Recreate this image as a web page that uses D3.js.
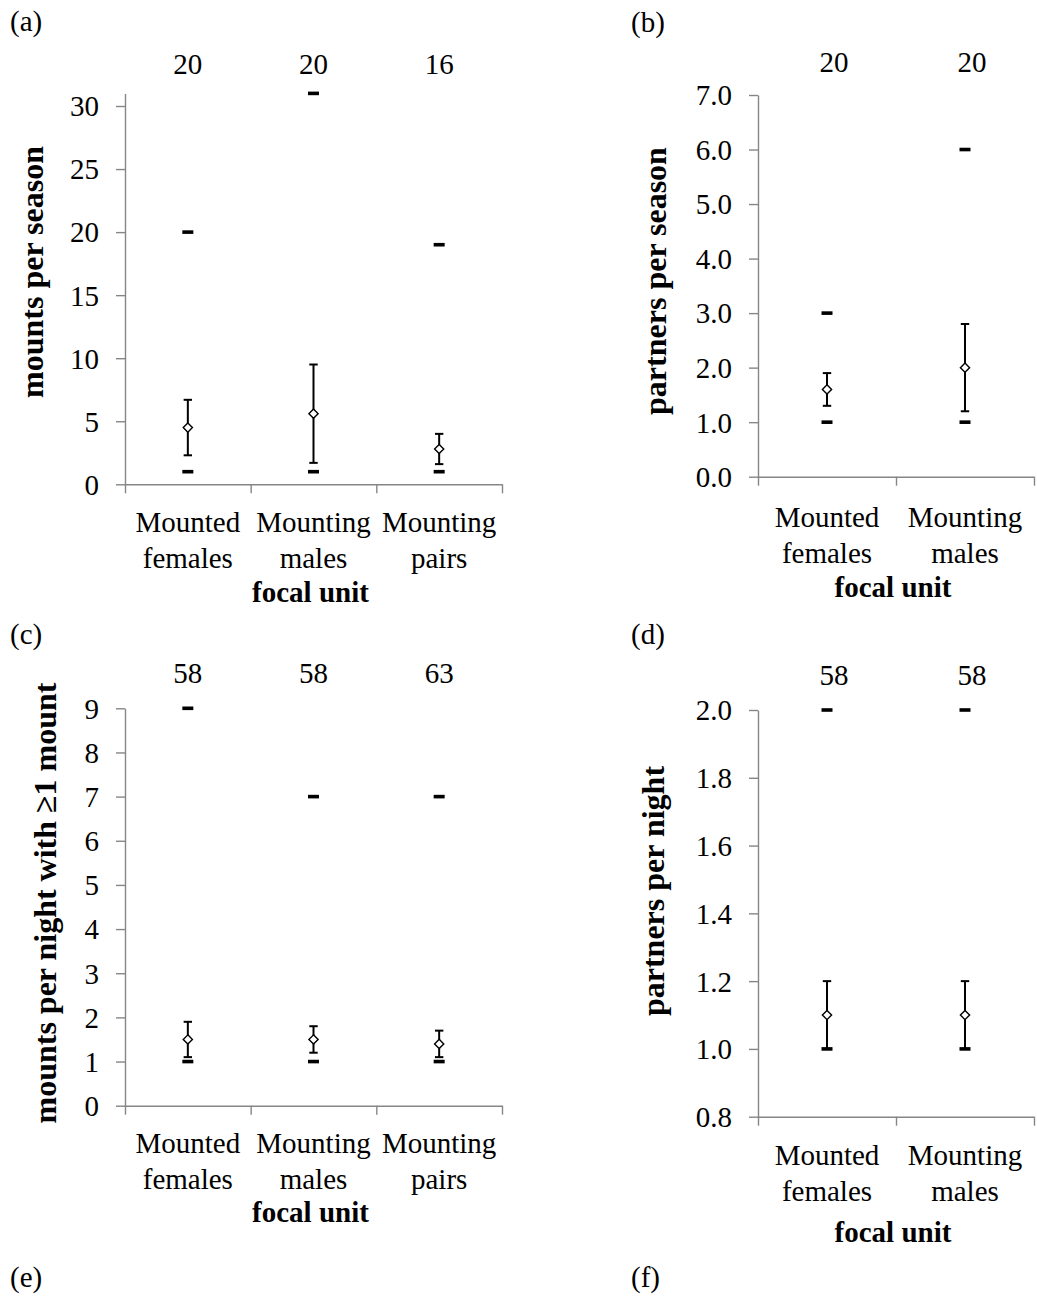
<!DOCTYPE html>
<html lang="en">
<head>
<meta charset="utf-8">
<title>Mounts and partners by focal unit</title>
<script src="https://cdn.jsdelivr.net/npm/d3@7"></script>
<style>
  body { margin: 0; background: #fff; }
  svg text { font-family: "Liberation Serif", "Times New Roman", serif; fill: #000; }
</style>
</head>
<body>
<div id="wrapper"></div>
<script>
// categories
const threeUnits = [["Mounted", "females"], ["Mounting", "males"], ["Mounting", "pairs"]]
const twoUnits = [["Mounted", "females"], ["Mounting", "males"]]

// (a) mounts per season
const seasonMountsN = [20, 20, 16]
const seasonMountsMean = [4.5, 5.6, 2.8]
const seasonMountsHigh = [6.7, 9.5, 4.0]
const seasonMountsLow = [2.3, 1.7, 1.6]
const seasonMountsMax = [20, 31, 19]
const seasonMountsMin = [1, 1, 1]
const seasonMountsTicks = [0, 5, 10, 15, 20, 25, 30]

// (b) partners per season
const seasonPartnersN = [20, 20]
const seasonPartnersMean = [1.6, 2.0]
const seasonPartnersHigh = [1.9, 2.8]
const seasonPartnersLow = [1.3, 1.2]
const seasonPartnersMax = [3, 6]
const seasonPartnersMin = [1, 1]
const seasonPartnersTicks = [0, 1, 2, 3, 4, 5, 6, 7]

// (c) mounts per night with >=1 mount
const nightMountsN = [58, 58, 63]
const nightMountsMean = [1.5, 1.5, 1.4]
const nightMountsHigh = [1.9, 1.8, 1.7]
const nightMountsLow = [1.1, 1.2, 1.1]
const nightMountsMax = [9, 7, 7]
const nightMountsMin = [1, 1, 1]
const nightMountsTicks = [0, 1, 2, 3, 4, 5, 6, 7, 8, 9]

// (d) partners per night
const nightPartnersN = [58, 58]
const nightPartnersMean = [1.1, 1.1]
const nightPartnersHigh = [1.2, 1.2]
const nightPartnersLow = [1.0, 1.0]
const nightPartnersMax = [2, 2]
const nightPartnersMin = [1, 1]
const nightPartnersTicks = [0.8, 1.0, 1.2, 1.4, 1.6, 1.8, 2.0]

const panelLetters = ["(a)", "(b)", "(c)", "(d)", "(e)", "(f)"]

const fontSize = 29
const titleSize = 32
const axisGrey = "#868686"

const svg = d3.select("#wrapper")
    .append("svg")
    .attr("width", 1037)
    .attr("height", 1302)

// panel letters
const letterPos = [[10, 31], [631, 32], [10, 644], [631, 644], [10, 1287], [631, 1287]]
svg.selectAll(".letter")
    .data(panelLetters)
    .join("text")
    .attr("class", "letter")
    .attr("x", (d, i) => letterPos[i][0])
    .attr("y", (d, i) => letterPos[i][1])
    .style("font-size", fontSize + "px")
    .text(d => d)

const panels = [
    {
        units: threeUnits, n: seasonMountsN, mean: seasonMountsMean, high: seasonMountsHigh,
        low: seasonMountsLow, max: seasonMountsMax, min: seasonMountsMin, ticks: seasonMountsTicks,
        domain: [0, 31], fmt: d3.format("d"), title: "mounts per season",
        left: 125, right: 502, top: 93.4, bottom: 484.3,
        nY: 74, nShift: 0, catY: 48, unitY: 118, titleX: 43, titleY: 272
    },
    {
        units: twoUnits, n: seasonPartnersN, mean: seasonPartnersMean, high: seasonPartnersHigh,
        low: seasonPartnersLow, max: seasonPartnersMax, min: seasonPartnersMin, ticks: seasonPartnersTicks,
        domain: [0, 7], fmt: d3.format(".1f"), title: "partners per season",
        left: 758, right: 1034, top: 95, bottom: 476.7,
        nY: 72, nShift: 7, catY: 50, unitY: 120, titleX: 666, titleY: 281
    },
    {
        units: threeUnits, n: nightMountsN, mean: nightMountsMean, high: nightMountsHigh,
        low: nightMountsLow, max: nightMountsMax, min: nightMountsMin, ticks: nightMountsTicks,
        domain: [0, 9], fmt: d3.format("d"), title: "mounts per night with \u22651 mount",
        left: 125, right: 502, top: 708.3, bottom: 1105.7,
        nY: 683, nShift: 0, catY: 47, unitY: 116, titleX: 56, titleY: 903
    },
    {
        units: twoUnits, n: nightPartnersN, mean: nightPartnersMean, high: nightPartnersHigh,
        low: nightPartnersLow, max: nightPartnersMax, min: nightPartnersMin, ticks: nightPartnersTicks,
        domain: [0.8, 2.0], fmt: d3.format(".1f"), title: "partners per night",
        left: 758, right: 1034, top: 710, bottom: 1116.7,
        nY: 685, nShift: 7, catY: 48, unitY: 125, titleX: 664, titleY: 891
    }
]

panels.forEach(drawPanel)

function drawPanel(p) {
    const g = svg.append("g")
    const names = p.units.map(d => d.join(" "))
    const x = d3.scaleBand().domain(names).range([p.left, p.right])
    const xEdge = d3.scaleLinear().domain([0, names.length]).range([p.left, p.right])
    const y = d3.scaleLinear().domain(p.domain).range([p.bottom, p.top])
    const cx = i => x(names[i]) + x.bandwidth() / 2

    // y axis
    const yAxis = g.append("g")
        .attr("transform", `translate(${p.left},0)`)
        .call(d3.axisLeft(y).tickValues(p.ticks).tickFormat(p.fmt)
            .tickSize(9).tickSizeOuter(0).tickPadding(17))
    yAxis.select(".domain").attr("stroke", axisGrey).attr("stroke-width", 1.4)
    yAxis.selectAll(".tick line").attr("stroke", axisGrey).attr("stroke-width", 1.4)
    yAxis.selectAll(".tick text")
        .attr("dy", "0.34em")
        .style("font-size", fontSize + "px")
        .style("font-family", "'Liberation Serif', 'Times New Roman', serif")
        .attr("fill", "#000")

    // x axis, ticks between categories
    const xAxis = g.append("g")
        .attr("transform", `translate(0,${p.bottom})`)
        .call(d3.axisBottom(xEdge).tickValues(d3.range(names.length + 1))
            .tickFormat("").tickSize(9).tickSizeOuter(0))
    xAxis.select(".domain").attr("stroke", axisGrey).attr("stroke-width", 1.4)
    xAxis.selectAll(".tick line").attr("stroke", axisGrey).attr("stroke-width", 1.4)

    // category labels
    const cats = g.selectAll(".cat")
        .data(p.units)
        .join("text")
        .attr("class", "cat")
        .attr("text-anchor", "middle")
        .style("font-size", fontSize + "px")
    cats.append("tspan")
        .attr("x", (d, i) => cx(i))
        .attr("y", p.bottom + p.catY)
        .text(d => d[0])
    cats.append("tspan")
        .attr("x", (d, i) => cx(i))
        .attr("y", p.bottom + p.catY + 36)
        .text(d => d[1])

    g.append("text")
        .attr("x", (p.left + p.right) / 2 - 3)
        .attr("y", p.bottom + p.unitY)
        .attr("text-anchor", "middle")
        .style("font-size", fontSize + "px")
        .style("font-weight", "bold")
        .text("focal unit")

    // y title
    g.append("text")
        .attr("transform", `translate(${p.titleX},${p.titleY}) rotate(-90)`)
        .attr("text-anchor", "middle")
        .style("font-size", titleSize + "px")
        .style("font-weight", "bold")
        .text(p.title)

    // sample sizes
    g.selectAll(".n")
        .data(p.n)
        .join("text")
        .attr("class", "n")
        .attr("x", (d, i) => cx(i) + p.nShift)
        .attr("y", p.nY)
        .attr("text-anchor", "middle")
        .style("font-size", fontSize + "px")
        .text(d => d)

    // max and min dashes
    const dashes = p.max.map((d, i) => ({ i, v: d })).concat(p.min.map((d, i) => ({ i, v: d })))
    g.selectAll(".dash")
        .data(dashes)
        .join("rect")
        .attr("class", "dash")
        .attr("x", d => cx(d.i) - 5.5)
        .attr("y", d => y(d.v) - 1.8)
        .attr("width", 11)
        .attr("height", 3.6)
        .attr("fill", "#000")

    // error bars
    const bars = g.selectAll(".err")
        .data(p.mean)
        .join("g")
        .attr("class", "err")
        .attr("stroke", "#000")
        .attr("stroke-width", 2)
    bars.append("line")
        .attr("x1", (d, i) => cx(i)).attr("x2", (d, i) => cx(i))
        .attr("y1", (d, i) => y(p.high[i])).attr("y2", (d, i) => y(p.low[i]))
    bars.append("line")
        .attr("x1", (d, i) => cx(i) - 4.2).attr("x2", (d, i) => cx(i) + 4.2)
        .attr("y1", (d, i) => y(p.high[i])).attr("y2", (d, i) => y(p.high[i]))
    bars.append("line")
        .attr("x1", (d, i) => cx(i) - 4.2).attr("x2", (d, i) => cx(i) + 4.2)
        .attr("y1", (d, i) => y(p.low[i])).attr("y2", (d, i) => y(p.low[i]))

    // mean diamonds
    const r = 4.6
    g.selectAll(".mean")
        .data(p.mean)
        .join("path")
        .attr("class", "mean")
        .attr("d", (d, i) => {
            const px = cx(i), py = y(d)
            return `M${px},${py - r}L${px + r},${py}L${px},${py + r}L${px - r},${py}Z`
        })
        .attr("fill", "#fff")
        .attr("stroke", "#000")
        .attr("stroke-width", 1.4)
}
</script>
</body>
</html>
